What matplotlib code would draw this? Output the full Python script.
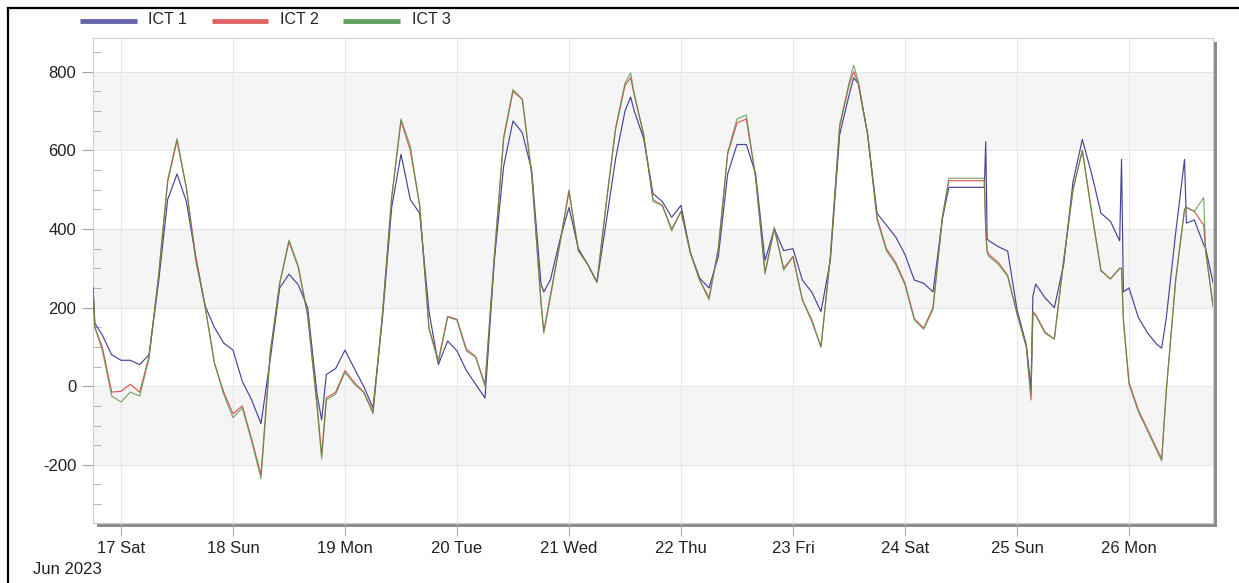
from datetime import datetime, timedelta

import matplotlib.pyplot as plt
import matplotlib.dates as mdates
from matplotlib.lines import Line2D
from matplotlib.patches import Rectangle
from matplotlib.ticker import MultipleLocator

plt.rcParams['font.family'] = ['Liberation Sans', 'DejaVu Sans']
plt.rcParams['axes.unicode_minus'] = False

# sample times, hours from 17 Jun 2023 00:00
hours = [
    -6, -5.6, -4, -2,
    0, 2, 4, 6, 8, 10, 12, 14, 16, 18, 20, 22,
    24, 26, 28, 30, 32, 34, 36, 38, 40, 42, 43, 44, 46,
    48, 50, 52, 54, 56, 58, 60, 62, 64, 66, 68, 70,
    72, 74, 76, 78, 80, 82, 84, 86, 88, 90, 90.6, 92, 94,
    96, 98, 100, 102, 104, 106, 108, 109.2, 110, 112, 114, 116, 118,
    120, 122, 124, 126, 128, 130, 132, 134, 136, 138, 140, 142,
    144, 146, 148, 150, 152, 154, 156, 157, 158, 160, 162, 164, 166,
    168, 170, 172, 174, 176, 177.4, 178, 180, 182, 184, 185, 185.3, 185.6, 186, 188, 190,
    192, 194, 195, 195.4, 196, 198, 200, 202, 204, 206, 208, 210, 212, 214, 214.4, 214.8,
    216, 218, 220, 222, 223, 224, 226, 227.9, 228.3, 230, 232, 232.4, 234,
]

ict1 = [
    250, 160, 130, 80,
    66, 66, 55, 80, 260, 475, 540, 470, 330, 205, 150, 110,
    92, 12, -35, -95, 70, 250, 285, 258, 200, -20, -86, 30, 45,
    92, 45, 0, -55, 170, 455, 590, 475, 440, 190, 55, 115,
    90, 40, 5, -30, 320, 560, 675, 645, 550, 260, 240, 270, 370,
    455, 350, 310, 265, 420, 580, 700, 736, 700, 630, 490, 470, 430,
    460, 340, 275, 250, 330, 540, 615, 615, 540, 320, 400, 345,
    350, 270, 240, 190, 320, 640, 740, 785, 770, 640, 440, 410, 380,
    335, 270, 262, 240, 425, 506, 506, 506, 506, 506, 506, 622, 375, 370, 355, 344,
    195, 105, -5, 229, 260, 225, 200, 310, 520, 628, 540, 440, 420, 370, 577, 240,
    250, 175, 135, 106, 97, 175, 390, 577, 415, 423, 360, 352, 264,
]

ict2 = [
    250, 150, 100, -15,
    -13, 5, -15, 75, 275, 520, 625, 505, 330, 205, 60, -15,
    -70, -50, -135, -225, 90, 260, 368, 302, 180, -45, -175, -30, -15,
    40, 10, -15, -65, 180, 480, 675, 600, 460, 148, 65, 178,
    170, 95, 75, 5, 330, 630, 750, 730, 540, 215, 140, 230, 360,
    495, 345, 310, 265, 465, 655, 765, 785, 740, 640, 475, 460, 400,
    445, 340, 270, 225, 350, 590, 670, 680, 530, 290, 400, 300,
    330, 220, 170, 100, 330, 660, 765, 800, 770, 640, 430, 350, 315,
    262, 172, 148, 200, 428, 523, 523, 523, 523, 523, 523, 400, 345, 335, 315, 282,
    185, 100, -35, 190, 182, 138, 120, 320, 500, 600, 445, 295, 273, 300, 300, 170,
    10, -60, -110, -160, -185, -10, 270, 450, 455, 445, 410, 350, 205,
]

ict3 = [
    250, 150, 90, -25,
    -40, -15, -25, 70, 275, 525, 630, 505, 320, 205, 60, -20,
    -80, -55, -140, -235, 85, 262, 372, 305, 180, -50, -185, -35, -20,
    35, 5, -15, -70, 180, 480, 680, 610, 460, 145, 60, 176,
    168, 90, 74, 0, 330, 635, 755, 730, 540, 210, 135, 225, 360,
    500, 345, 310, 265, 470, 659, 771, 797, 743, 640, 470, 460, 395,
    445, 340, 270, 220, 350, 595, 680, 690, 530, 285, 405, 295,
    330, 220, 165, 100, 330, 665, 771, 817, 775, 640, 425, 345, 310,
    258, 168, 145, 195, 430, 529, 529, 529, 529, 529, 529, 390, 340, 330, 310, 280,
    185, 100, -20, 185, 180, 135, 120, 320, 500, 599, 440, 293, 273, 300, 300, 165,
    5, -65, -115, -165, -190, -10, 270, 450, 455, 445, 480, 345, 203,
]

series = [('ICT 1', ict1, '#45459a'), ('ICT 2', ict2, '#d9534f'), ('ICT 3', ict3, '#4e8f3c')]
legend_colors = ['#6666aa', '#e06666', '#5fa35f']

start = datetime(2023, 6, 17)
times = [start + timedelta(hours=h) for h in hours]

W, H = 1239, 583
fig = plt.figure(figsize=(W / 100, H / 100), dpi=100)

# plot box in pixels
left, right, top, bottom = 93, 1213, 38, 523
ax = fig.add_axes([left / W, 1 - bottom / H, (right - left) / W, (bottom - top) / H])

# drop shadow behind the plot box
shadow = Rectangle(((left + 4) / W, 1 - (bottom + 4) / H), (right - left) / W, (bottom - top) / H,
                   transform=fig.transFigure, facecolor='#8c8c8c', edgecolor='none', zorder=-5)
fig.patches.append(shadow)

# outer frame, left and top edges
fig.add_artist(Line2D([8 / W, 8 / W], [0, 1 - 8 / H], transform=fig.transFigure, color='black', lw=1.6))
fig.add_artist(Line2D([8 / W, 1], [1 - 8 / H, 1 - 8 / H], transform=fig.transFigure, color='black', lw=1.6))

# alternating background bands
for lo, hi in [(600, 800), (200, 400), (-200, 0)]:
    ax.axhspan(lo, hi, color='#f5f5f5', zorder=0, lw=0)

alphas = [1.0, 0.95, 0.75]
for (name, vals, col), a in zip(series, alphas):
    ax.plot(times, vals, color=col, lw=0.85, alpha=a, zorder=3)

ax.set_xlim(datetime(2023, 6, 16, 18), datetime(2023, 6, 26, 18))
ax.set_ylim(-348, 886)

ax.yaxis.set_major_locator(MultipleLocator(200))
ax.yaxis.set_minor_locator(MultipleLocator(50))
ax.xaxis.set_major_locator(mdates.DayLocator())
ax.xaxis.set_major_formatter(mdates.DateFormatter('%d %a'))

ax.tick_params(axis='y', which='major', direction='out', length=8, width=0.8, color='#a0a0a0',
               labelsize=12, labelcolor='#222222', pad=4)
ax.tick_params(axis='y', which='minor', direction='in', length=6, width=0.8, color='#b8b8b8')
ax.tick_params(axis='x', which='major', direction='out', length=9, width=0.8, color='#b0b0b0',
               labelsize=12, labelcolor='#222222', pad=4)

ax.grid(True, which='major', axis='both', color='#e6e6e6', lw=0.8, zorder=1)
ax.set_axisbelow(True)

for s in ax.spines.values():
    s.set_color('#d0d0d0')
    s.set_linewidth(0.8)

fig.text(33 / W, 1 - 570 / H, 'Jun 2023', fontsize=12, color='#222222', va='center', ha='left')

# legend row across the top
swatches = [(80, 137, 148), (212, 268, 280), (343, 400, 412)]
for (x0, x1, tx), (name, _, _), col in zip(swatches, series, legend_colors):
    fig.add_artist(Line2D([x0 / W, x1 / W], [1 - 21 / H, 1 - 21 / H], transform=fig.transFigure,
                          color=col, lw=3.5, solid_capstyle='butt'))
    fig.text(tx / W, 1 - 20 / H, name, fontsize=11.5, color='#222222', va='center', ha='left')

fig.savefig('out.png', dpi=100)
